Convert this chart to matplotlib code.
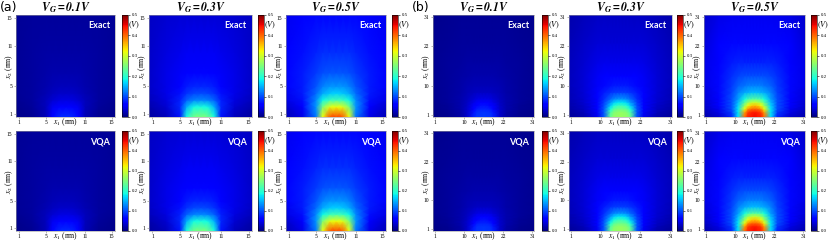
import numpy as np
import matplotlib
matplotlib.use("Agg")
import matplotlib.pyplot as plt

plt.rcParams["font.family"] = ["Liberation Serif", "DejaVu Serif"]
plt.rcParams["mathtext.fontset"] = "stix"

gate_voltages = [0.1, 0.3, 0.5]
row_names = ["Exact", "VQA"]
cbar_ticks = [0.0, 0.1, 0.2, 0.3, 0.4, 0.5]

# (a) 15 x 15 lattice: potential normalised by V_G, read at a few nodes
a_x1 = [0.5, 3, 5, 6, 7, 8, 9, 10, 11, 13, 15.5]
a_x2 = [0.5, 2, 3, 4, 5, 7, 10, 15.5]
a_field = [
    [0.05, 0.09, 0.24, 0.64, 0.82, 0.84, 0.82, 0.64, 0.24, 0.09, 0.05],
    [0.07, 0.12, 0.27, 0.50, 0.62, 0.64, 0.62, 0.50, 0.27, 0.12, 0.07],
    [0.09, 0.14, 0.26, 0.37, 0.42, 0.43, 0.42, 0.37, 0.26, 0.14, 0.09],
    [0.10, 0.15, 0.23, 0.29, 0.32, 0.33, 0.32, 0.29, 0.23, 0.15, 0.10],
    [0.11, 0.15, 0.21, 0.25, 0.27, 0.27, 0.27, 0.25, 0.21, 0.15, 0.11],
    [0.11, 0.15, 0.18, 0.20, 0.21, 0.21, 0.21, 0.20, 0.18, 0.15, 0.11],
    [0.11, 0.14, 0.16, 0.17, 0.17, 0.17, 0.17, 0.17, 0.16, 0.14, 0.11],
    [0.10, 0.12, 0.13, 0.13, 0.13, 0.13, 0.13, 0.13, 0.13, 0.12, 0.10],
]
a_size = 15
a_ticks = [1, 5, 11, 15]

# (b) 31 x 31 lattice
b_x1 = [0.5, 5, 9, 11, 13, 14, 15, 16, 17, 18, 19, 21, 23, 27, 31.5]
b_x2 = [0.5, 2, 3, 4, 5, 6, 8, 10, 13, 17, 23, 31.5]
b_field = [
    [0.04, 0.07, 0.16, 0.34, 0.80, 0.88, 0.89, 0.90, 0.89, 0.88, 0.80, 0.34, 0.16, 0.07, 0.04],
    [0.05, 0.09, 0.18, 0.35, 0.74, 0.84, 0.87, 0.88, 0.87, 0.84, 0.74, 0.35, 0.18, 0.09, 0.05],
    [0.06, 0.10, 0.20, 0.35, 0.63, 0.75, 0.79, 0.80, 0.79, 0.75, 0.63, 0.35, 0.20, 0.10, 0.06],
    [0.07, 0.11, 0.20, 0.33, 0.54, 0.64, 0.69, 0.71, 0.69, 0.64, 0.54, 0.33, 0.20, 0.11, 0.07],
    [0.07, 0.12, 0.20, 0.31, 0.46, 0.54, 0.58, 0.59, 0.58, 0.54, 0.46, 0.31, 0.20, 0.12, 0.07],
    [0.08, 0.12, 0.20, 0.28, 0.38, 0.43, 0.45, 0.46, 0.45, 0.43, 0.38, 0.28, 0.20, 0.12, 0.08],
    [0.08, 0.13, 0.19, 0.25, 0.29, 0.30, 0.31, 0.31, 0.31, 0.30, 0.29, 0.25, 0.19, 0.13, 0.08],
    [0.09, 0.13, 0.18, 0.22, 0.24, 0.25, 0.25, 0.25, 0.25, 0.25, 0.24, 0.22, 0.18, 0.13, 0.09],
    [0.09, 0.13, 0.17, 0.19, 0.20, 0.20, 0.20, 0.20, 0.20, 0.20, 0.20, 0.19, 0.17, 0.13, 0.09],
    [0.09, 0.12, 0.15, 0.16, 0.16, 0.16, 0.16, 0.16, 0.16, 0.16, 0.16, 0.16, 0.15, 0.12, 0.09],
    [0.08, 0.11, 0.13, 0.13, 0.13, 0.13, 0.13, 0.13, 0.13, 0.13, 0.13, 0.13, 0.13, 0.11, 0.08],
    [0.07, 0.09, 0.10, 0.10, 0.10, 0.10, 0.10, 0.10, 0.10, 0.10, 0.10, 0.10, 0.10, 0.09, 0.07],
]
b_size = 31
b_ticks = [1, 10, 22, 31]

W, H = 830, 244
fig = plt.figure(figsize=(W / 100, H / 100), dpi=100)

# pixel layout: axes left/right per column, colorbar left
a_cols = [(16, 115, 122), (149, 252, 258), (286, 386, 392)]
b_cols = [(433, 534, 542), (569, 672, 677), (704, 805, 811)]
rows = [(15, 117), (131, 231)]
cbar_w = 6


def px_axes(x0, x1, y0, y1):
    return fig.add_axes([x0 / W, 1 - y1 / H, (x1 - x0) / W, (y1 - y0) / H])


def draw_system(xs, ys, field, size, ticks, cols, tag, tag_x):
    X1, X2 = np.meshgrid(xs, ys)
    field = np.array(field)
    for r, (top, bot) in enumerate(rows):
        for c, (left, right, cleft) in enumerate(cols):
            vg = gate_voltages[c]
            ax = px_axes(left, right, top, bot)
            mesh = ax.pcolormesh(X1, X2, field * vg, shading="gouraud",
                                 cmap="jet", vmin=0, vmax=0.5)
            ax.set_xlim(0.5, size + 0.5)
            ax.set_ylim(0.5, size + 0.5)
            ax.set_xticks(ticks)
            ax.set_yticks(ticks)
            ax.tick_params(labelsize=4, length=1.5, width=0.4, pad=1,
                           color="0.5")
            for sp in ax.spines.values():
                sp.set_linewidth(0.4)
                sp.set_color("0.6")
            ax.set_xlabel(r"$x_1$ (nm)", fontsize=5.5, labelpad=-6.5)
            ax.set_ylabel(r"$x_2$ (nm)", fontsize=5.5, labelpad=-6)
            ax.text(0.95, 0.94, row_names[r], transform=ax.transAxes,
                    ha="right", va="top", color="white", fontsize=6.5,
                    fontweight="bold", family="Lato")
            if r == 0:
                ax.set_title(r"$\mathbfit{V_G = %.1fV}$" % vg, fontsize=8.5,
                             pad=2)

            cax = px_axes(cleft, cleft + cbar_w, top, bot)
            cb = fig.colorbar(mesh, cax=cax, ticks=cbar_ticks, format="%.1f")
            cb.ax.tick_params(labelsize=3.5, length=1.5, width=0.4, pad=1)
            cb.outline.set_linewidth(0.4)
            cb.ax.text(1.0, 0.9, r"$(V)$", transform=cb.ax.transAxes,
                       ha="left", va="center", fontsize=6)
    fig.text(tag_x / W, 1 - 8 / H, tag, ha="center", va="center",
             fontsize=9, family="DejaVu Sans")


draw_system(a_x1, a_x2, a_field, a_size, a_ticks, a_cols, "(a)", 9)
draw_system(b_x1, b_x2, b_field, b_size, b_ticks, b_cols, "(b)", 421)

fig.savefig("out.png", dpi=100)
